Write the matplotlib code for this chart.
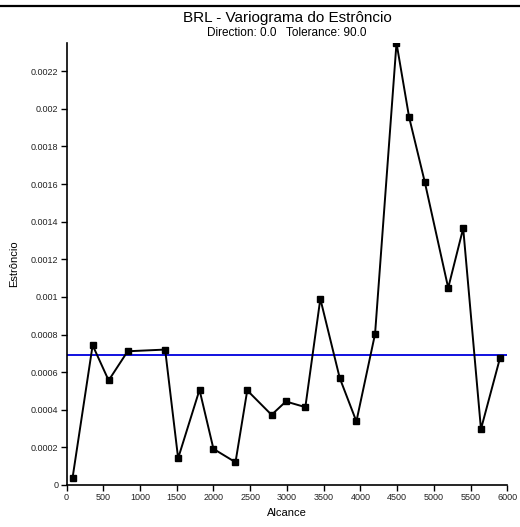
import matplotlib
matplotlib.use("Agg")
import matplotlib.pyplot as plt
from matplotlib.lines import Line2D

plt.rcParams['font.family'] = ['Liberation Sans', 'DejaVu Sans']

# Experimental variogram points (lag distance, semivariance)
lags = [82, 355, 573, 832, 1342, 1519, 1810, 2000, 2300, 2460, 2791, 2986,
        3251, 3455, 3719, 3946, 4200, 4492, 4664, 4877, 5196, 5400, 5642, 5901]
gamma = [0.000039, 0.000743, 0.000556, 0.000711, 0.000720, 0.000142, 0.000506,
         0.000192, 0.000121, 0.000503, 0.000373, 0.000444, 0.000414, 0.000990,
         0.000569, 0.000338, 0.000803, 0.002350, 0.001955, 0.001611, 0.001048,
         0.001365, 0.000297, 0.000675]
sill = 0.000693

xticks = [0, 500, 1000, 1500, 2000, 2500, 3000, 3500, 4000, 4500, 5000, 5500, 6000]
yticks = [0, 0.0002, 0.0004, 0.0006, 0.0008, 0.001, 0.0012, 0.0014, 0.0016,
          0.0018, 0.002, 0.0022]
ytick_labels = ['0', '0.0002', '0.0004', '0.0006', '0.0008', '0.001', '0.0012',
                '0.0014', '0.0016', '0.0018', '0.002', '0.0022']

fig = plt.figure(figsize=(5.2, 5.27), dpi=100)
ax = fig.add_axes([0.128, 0.0797, 0.8475, 0.8387])

ax.plot(lags, gamma, color='black', linewidth=1.4, marker='s', markersize=4,
        markerfacecolor='black', markeredgecolor='black', zorder=3)
ax.axhline(sill, color='#1010e0', linewidth=1.4, zorder=2)

ax.set_xlim(0, 6000)
ax.set_ylim(0, max(gamma))
ax.set_xticks(xticks)
ax.set_yticks(yticks)
ax.set_yticklabels(ytick_labels)

for side in ['top', 'right']:
    ax.spines[side].set_visible(False)
for side in ['left', 'bottom']:
    ax.spines[side].set_linewidth(1.2)
ax.tick_params(axis='both', direction='out', length=4, width=1.0,
               labelsize=6.5, pad=2, labelcolor='#222222')

ax.set_xlabel('Alcance', fontsize=8, labelpad=4)
ax.set_ylabel('Estrôncio', fontsize=8, labelpad=8)

fig.text(0.552, 0.966, 'BRL - Variograma do Estrôncio', ha='center', va='center',
         fontsize=11)
fig.text(0.552, 0.937, 'Direction: 0.0   Tolerance: 90.0', ha='center', va='center',
         fontsize=8.5)

# page rule from the scanned document above the chart
fig.add_artist(Line2D([0, 1], [0.989, 0.989], color='black', linewidth=1.6,
                      transform=fig.transFigure))

fig.savefig('out.png', dpi=100)
